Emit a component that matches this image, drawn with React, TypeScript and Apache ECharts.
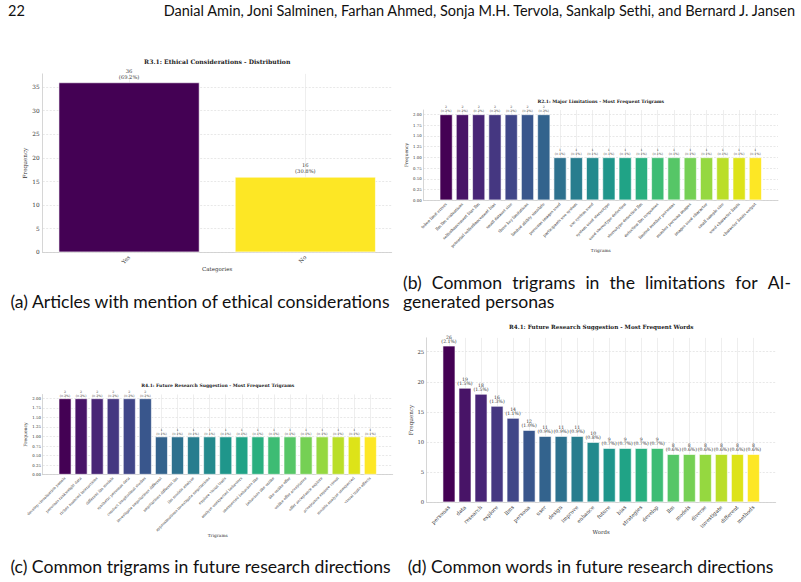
import React, { useEffect, useRef } from "react";
import * as echarts from "echarts";

// ---------- data ----------
// R3.1 ethical considerations
const ethicsCategories = ["Yes", "No"];
const ethicsCounts = [36, 16];
const ethicsShares = ["69.2", "30.8"];

// R2.1 major limitations: trigrams
const limitationTrigrams = [
  "token limit errors",
  "llm llm evaluations",
  "selfenhancement bias llm",
  "potential selfenhancement bias",
  "small dataset size",
  "three key limitations",
  "limited ability simulate",
  "personas images used",
  "participants use system",
  "use system used",
  "system used stereotype",
  "used stereotype detection",
  "stereotype detection llm",
  "detection llm responses",
  "limited number personas",
  "number persona images",
  "images used character",
  "small sample size",
  "used character limits",
  "character limits output",
];
const limitationCounts = [2, 2, 2, 2, 2, 2, 2, 1, 1, 1, 1, 1, 1, 1, 1, 1, 1, 1, 1, 1];
const limitationShares = [
  "0.2", "0.2", "0.2", "0.2", "0.2", "0.2", "0.2",
  "0.1", "0.1", "0.1", "0.1", "0.1", "0.1", "0.1", "0.1", "0.1", "0.1", "0.1", "0.1", "0.1",
];

// R4.1 future research: trigrams
const researchTrigrams = [
  "develop visualization panels",
  "personas rankweight data",
  "richer nuanced interactions",
  "different llm models",
  "synthetic personas data",
  "conduct longitudinal studies",
  "investigate negotiations different",
  "negotiations different llm",
  "llm models analyze",
  "approximations investigate negotiations",
  "explore visual traits",
  "analyze unexpected behaviors",
  "unexpected behaviors like",
  "behaviors like unlike",
  "like unlike offer",
  "unlike offer acceptance",
  "offer acceptance explore",
  "acceptance explore visual",
  "models analyze unexpected",
  "visual traits effects",
];
const researchTrigramCounts = [2, 2, 2, 2, 2, 2, 1, 1, 1, 1, 1, 1, 1, 1, 1, 1, 1, 1, 1, 1];
const researchTrigramShares = [
  "0.2", "0.2", "0.2", "0.2", "0.2", "0.2",
  "0.1", "0.1", "0.1", "0.1", "0.1", "0.1", "0.1", "0.1", "0.1", "0.1", "0.1", "0.1", "0.1", "0.1",
];

// R4.1 future research: words
const researchWords = [
  "personas", "data", "research", "explore", "llms", "persona", "user", "design", "improve", "enhance",
  "future", "bias", "strategies", "develop", "llm", "models", "diverse", "investigate", "different", "methods",
];
const researchWordCounts = [26, 19, 18, 16, 14, 12, 11, 11, 11, 10, 9, 9, 9, 9, 8, 8, 8, 8, 8, 8];
const researchWordShares = [
  "2.1", "1.5", "1.5", "1.3", "1.1", "1.0", "0.9", "0.9", "0.9", "0.8",
  "0.7", "0.7", "0.7", "0.7", "0.6", "0.6", "0.6", "0.6", "0.6", "0.6",
];

// viridis colormap sampled at 20 and 2 evenly spaced points
const viridis20 = [
  "#440154", "#481467", "#482576", "#453781", "#404688", "#39568c", "#33638d", "#2d718e", "#287d8e", "#238a8d",
  "#1f968b", "#20a386", "#29af7f", "#3dbc74", "#56c667", "#75d054", "#95d840", "#bade28", "#dde318", "#fde725",
];
const viridis2 = ["#440154", "#fde725"];

const headerPage = "22";
const headerAuthors =
  "Danial Amin, Joni Salminen, Farhan Ahmed, Sonja M.H. Tervola, Sankalp Sethi, and Bernard J. Jansen";

// ---------- styling ----------
const SERIF = '"DejaVu Serif", serif';
const SANS = 'Lato, "Open Sans", sans-serif';
const TEXT = "#333333";
const SPINE = "#cccccc";

type Panel = {
  title: string;
  titleSize: number;
  titleY: number;
  categories: string[];
  values: number[];
  shares: string[];
  colors: string[];
  left: number;
  right: number;
  bottom: number;
  yMax: number;
  pxPerUnit: number;
  interval: number;
  decimals: number;
  tickSize: number;
  yTickSize: number;
  yTickMargin: number;
  valueSize: number;
  valueLine: number;
  valueGap: number;
  xName: string;
  xNameSize: number;
  xNameGap: number;
  yNameSize: number;
  yNameGap: number;
  labelMargin: number;
};

const panels: Panel[] = [
  {
    title: "R3.1: Ethical Considerations - Distribution",
    titleSize: 6.1,
    titleY: 61.3,
    categories: ethicsCategories,
    values: ethicsCounts,
    shares: ethicsShares,
    colors: viridis2,
    left: 42.7,
    right: 391.7,
    bottom: 252.3,
    yMax: 37.8,
    pxPerUnit: 23.6 / 5,
    interval: 5,
    decimals: 0,
    tickSize: 5.5,
    yTickSize: 5.8,
    yTickMargin: 3,
    valueSize: 5.2,
    valueLine: 6,
    valueGap: 2.5,
    xName: "Categories",
    xNameSize: 5.5,
    xNameGap: 14,
    yNameSize: 5.7,
    yNameGap: 10.5,
    labelMargin: 4,
  },
  {
    title: "R2.1: Major Limitations - Most Frequent Trigrams",
    titleSize: 4.5,
    titleY: 101,
    categories: limitationTrigrams,
    values: limitationCounts,
    shares: limitationShares,
    colors: viridis20,
    left: 423.5,
    right: 778,
    bottom: 200.3,
    yMax: 2.1,
    pxPerUnit: 43,
    interval: 0.25,
    decimals: 2,
    tickSize: 3.9,
    yTickSize: 3.9,
    yTickMargin: 1.8,
    valueSize: 3.2,
    valueLine: 4,
    valueGap: 1.2,
    xName: "Trigrams",
    xNameSize: 4.3,
    xNameGap: 48,
    yNameSize: 4.5,
    yNameGap: 11,
    labelMargin: 3,
  },
  {
    title: "R4.1: Future Research Suggestion - Most Frequent Trigrams",
    titleSize: 4.5,
    titleY: 385.3,
    categories: researchTrigrams,
    values: researchTrigramCounts,
    shares: researchTrigramShares,
    colors: viridis20,
    left: 42.7,
    right: 392.7,
    bottom: 474.7,
    yMax: 2.1,
    pxPerUnit: 38.2,
    interval: 0.25,
    decimals: 2,
    tickSize: 3.7,
    yTickSize: 3.9,
    yTickMargin: 1.8,
    valueSize: 3.2,
    valueLine: 3.7,
    valueGap: 1,
    xName: "Trigrams",
    xNameSize: 4.3,
    xNameGap: 58.5,
    yNameSize: 4.5,
    yNameGap: 11,
    labelMargin: 3,
  },
  {
    title: "R4.1: Future Research Suggestion - Most Frequent Words",
    titleSize: 5.7,
    titleY: 327,
    categories: researchWords,
    values: researchWordCounts,
    shares: researchWordShares,
    colors: viridis20,
    left: 426.7,
    right: 775.7,
    bottom: 502.3,
    yMax: 27.3,
    pxPerUnit: 30.12 / 5,
    interval: 5,
    decimals: 0,
    tickSize: 5.2,
    yTickSize: 5.3,
    yTickMargin: 2.5,
    valueSize: 4.6,
    valueLine: 4.4,
    valueGap: 2,
    xName: "Words",
    xNameSize: 5.4,
    xNameGap: 27,
    yNameSize: 5.6,
    yNameGap: 10.8,
    labelMargin: 4,
  },
];

function buildOption() {
  const grid: any[] = [];
  const xAxis: any[] = [];
  const yAxis: any[] = [];
  const series: any[] = [];
  const graphic: any[] = [];

  panels.forEach((p, i) => {
    const n = p.categories.length;
    // matplotlib-style x limits: bars of width 0.8 plus 5% margins
    const margin = 0.05 * (n - 1 + 0.8);
    const lo = -0.4 - margin;
    const hi = n - 1 + 0.4 + margin;
    const width = p.right - p.left;
    const ppu = width / (hi - lo);
    const top = p.bottom - p.yMax * p.pxPerUnit;
    const height = p.bottom - top;
    const catLeft = p.left + (-0.5 - lo) * ppu;
    const frame = 3 * i;
    const verticals = 3 * i + 1;
    const bars = 3 * i + 2;

    grid.push({ left: p.left, top, width, height });
    // spans first to last category centre
    grid.push({ left: p.left - lo * ppu, top, width: (n - 1) * ppu, height });
    grid.push({ left: catLeft, top, width: n * ppu, height });

    // frame axes: spines, horizontal grid, y ticks, axis titles
    xAxis.push({
      gridIndex: frame,
      type: "value",
      min: 0,
      max: 1,
      axisLine: { show: true, lineStyle: { color: SPINE, width: 0.8 } },
      axisTick: { show: false },
      axisLabel: { show: false },
      splitLine: { show: false },
      name: p.xName,
      nameLocation: "middle",
      nameGap: p.xNameGap,
      nameTextStyle: { fontFamily: SERIF, fontSize: p.xNameSize, color: TEXT },
    });
    yAxis.push({
      gridIndex: frame,
      type: "value",
      min: 0,
      max: p.yMax,
      interval: p.interval,
      axisLine: { show: true, lineStyle: { color: SPINE, width: 0.8 } },
      axisTick: { show: false },
      axisLabel: {
        fontFamily: SERIF,
        fontSize: p.yTickSize,
        color: TEXT,
        margin: p.yTickMargin,
        showMaxLabel: false,
        formatter: (v: number) => v.toFixed(p.decimals),
      },
      splitLine: {
        show: true,
        showMaxLine: false,
        lineStyle: { type: [2, 1.5], color: "#d8d8d8", width: 0.6 },
      },
      name: "Frequency",
      nameLocation: "middle",
      nameGap: p.yNameGap,
      nameTextStyle: { fontFamily: SERIF, fontSize: p.yNameSize, color: TEXT },
    });

    // vertical grid lines through every category centre
    xAxis.push({
      gridIndex: verticals,
      type: "value",
      min: 0,
      max: n - 1,
      interval: 1,
      axisLine: { show: false },
      axisTick: { show: false },
      axisLabel: { show: false },
      splitLine: { show: true, lineStyle: { color: "#e6e6e6", width: 0.7 } },
    });
    yAxis.push({ gridIndex: verticals, type: "value", min: 0, max: 1, show: false });

    // bar axes: categories
    xAxis.push({
      gridIndex: bars,
      type: "category",
      data: p.categories,
      axisLine: { show: false },
      axisTick: { show: false },
      axisLabel: {
        interval: 0,
        rotate: 45,
        fontFamily: SERIF,
        fontSize: p.tickSize,
        color: TEXT,
        margin: p.labelMargin,
      },
      splitLine: { show: false },
    });
    yAxis.push({ gridIndex: bars, type: "value", min: 0, max: p.yMax, show: false });

    series.push({
      type: "bar",
      xAxisIndex: bars,
      yAxisIndex: bars,
      barWidth: "80%",
      data: p.values.map((v, k) => ({ value: v, itemStyle: { color: p.colors[k] } })),
      itemStyle: { borderColor: "rgba(255,255,255,0.75)", borderWidth: 0.8 },
      label: {
        show: true,
        position: "top",
        distance: p.valueGap,
        formatter: (d: any) => `${d.value}\n(${p.shares[d.dataIndex]}%)`,
        fontFamily: SERIF,
        fontSize: p.valueSize,
        lineHeight: p.valueLine,
        color: TEXT,
      },
    });

    graphic.push({
      type: "text",
      x: (p.left + p.right) / 2,
      y: p.titleY,
      style: {
        text: p.title,
        fontFamily: SERIF,
        fontWeight: "bold",
        fontSize: p.titleSize,
        fill: "#222",
        align: "center",
        verticalAlign: "middle",
      },
    });
  });

  return { grid, xAxis, yAxis, series, graphic };
}

// words of a justified caption line spread between x0 and x1
function justified(words: string[], size: number, x0: number, x1: number, y: number) {
  const ctx = document.createElement("canvas").getContext("2d")!;
  ctx.font = `${size}px Lato`;
  const widths = words.map((w) => ctx.measureText(w).width);
  const total = widths.reduce((a, b) => a + b, 0);
  const gap = (x1 - x0 - total) / (words.length - 1);
  let x = x0;
  return words.map((w, k) => {
    const el = {
      type: "text",
      x,
      y,
      style: { text: w, fontFamily: SANS, fontSize: size, fill: "#111", align: "left", verticalAlign: "middle" },
    };
    x += widths[k] + gap;
    return el;
  });
}

function pageText(text: string, x: number, y: number, size: number, align: string) {
  return {
    type: "text",
    x,
    y,
    style: { text, fontFamily: SANS, fontSize: size, fill: "#111", align, verticalAlign: "middle" },
  };
}

export default function App() {
  const ref = useRef<HTMLDivElement>(null);

  useEffect(() => {
    if (!ref.current) return;
    const chart = echarts.init(ref.current, undefined, { renderer: "svg" });
    const built = buildOption();
    const capSize = 17.6;
    const graphic = [
      ...built.graphic,
      pageText(headerPage, 8, 10.5, 14.5, "left"),
      pageText(headerAuthors, 795, 10.5, 14.5, "right"),
      pageText("(a) Articles with mention of ethical considerations", 200, 301, capSize, "center"),
      ...justified(["(b)", "Common", "trigrams", "in", "the", "limitations", "for", "AI-"], capSize, 403, 791, 282),
      pageText("generated personas", 403, 301, capSize, "left"),
      pageText("(c) Common trigrams in future research directions", 200.5, 566, capSize, "center"),
      pageText("(d) Common words in future research directions", 590.5, 566, capSize, "center"),
    ];
    chart.setOption({
      animation: false,
      backgroundColor: "#ffffff",
      grid: built.grid,
      xAxis: built.xAxis,
      yAxis: built.yAxis,
      series: built.series,
      graphic,
    });
    return () => chart.dispose();
  }, []);

  return (
    <div
      ref={ref}
      style={{ position: "absolute", left: 0, top: 0, width: 801, height: 582, background: "#fff" }}
    />
  );
}
